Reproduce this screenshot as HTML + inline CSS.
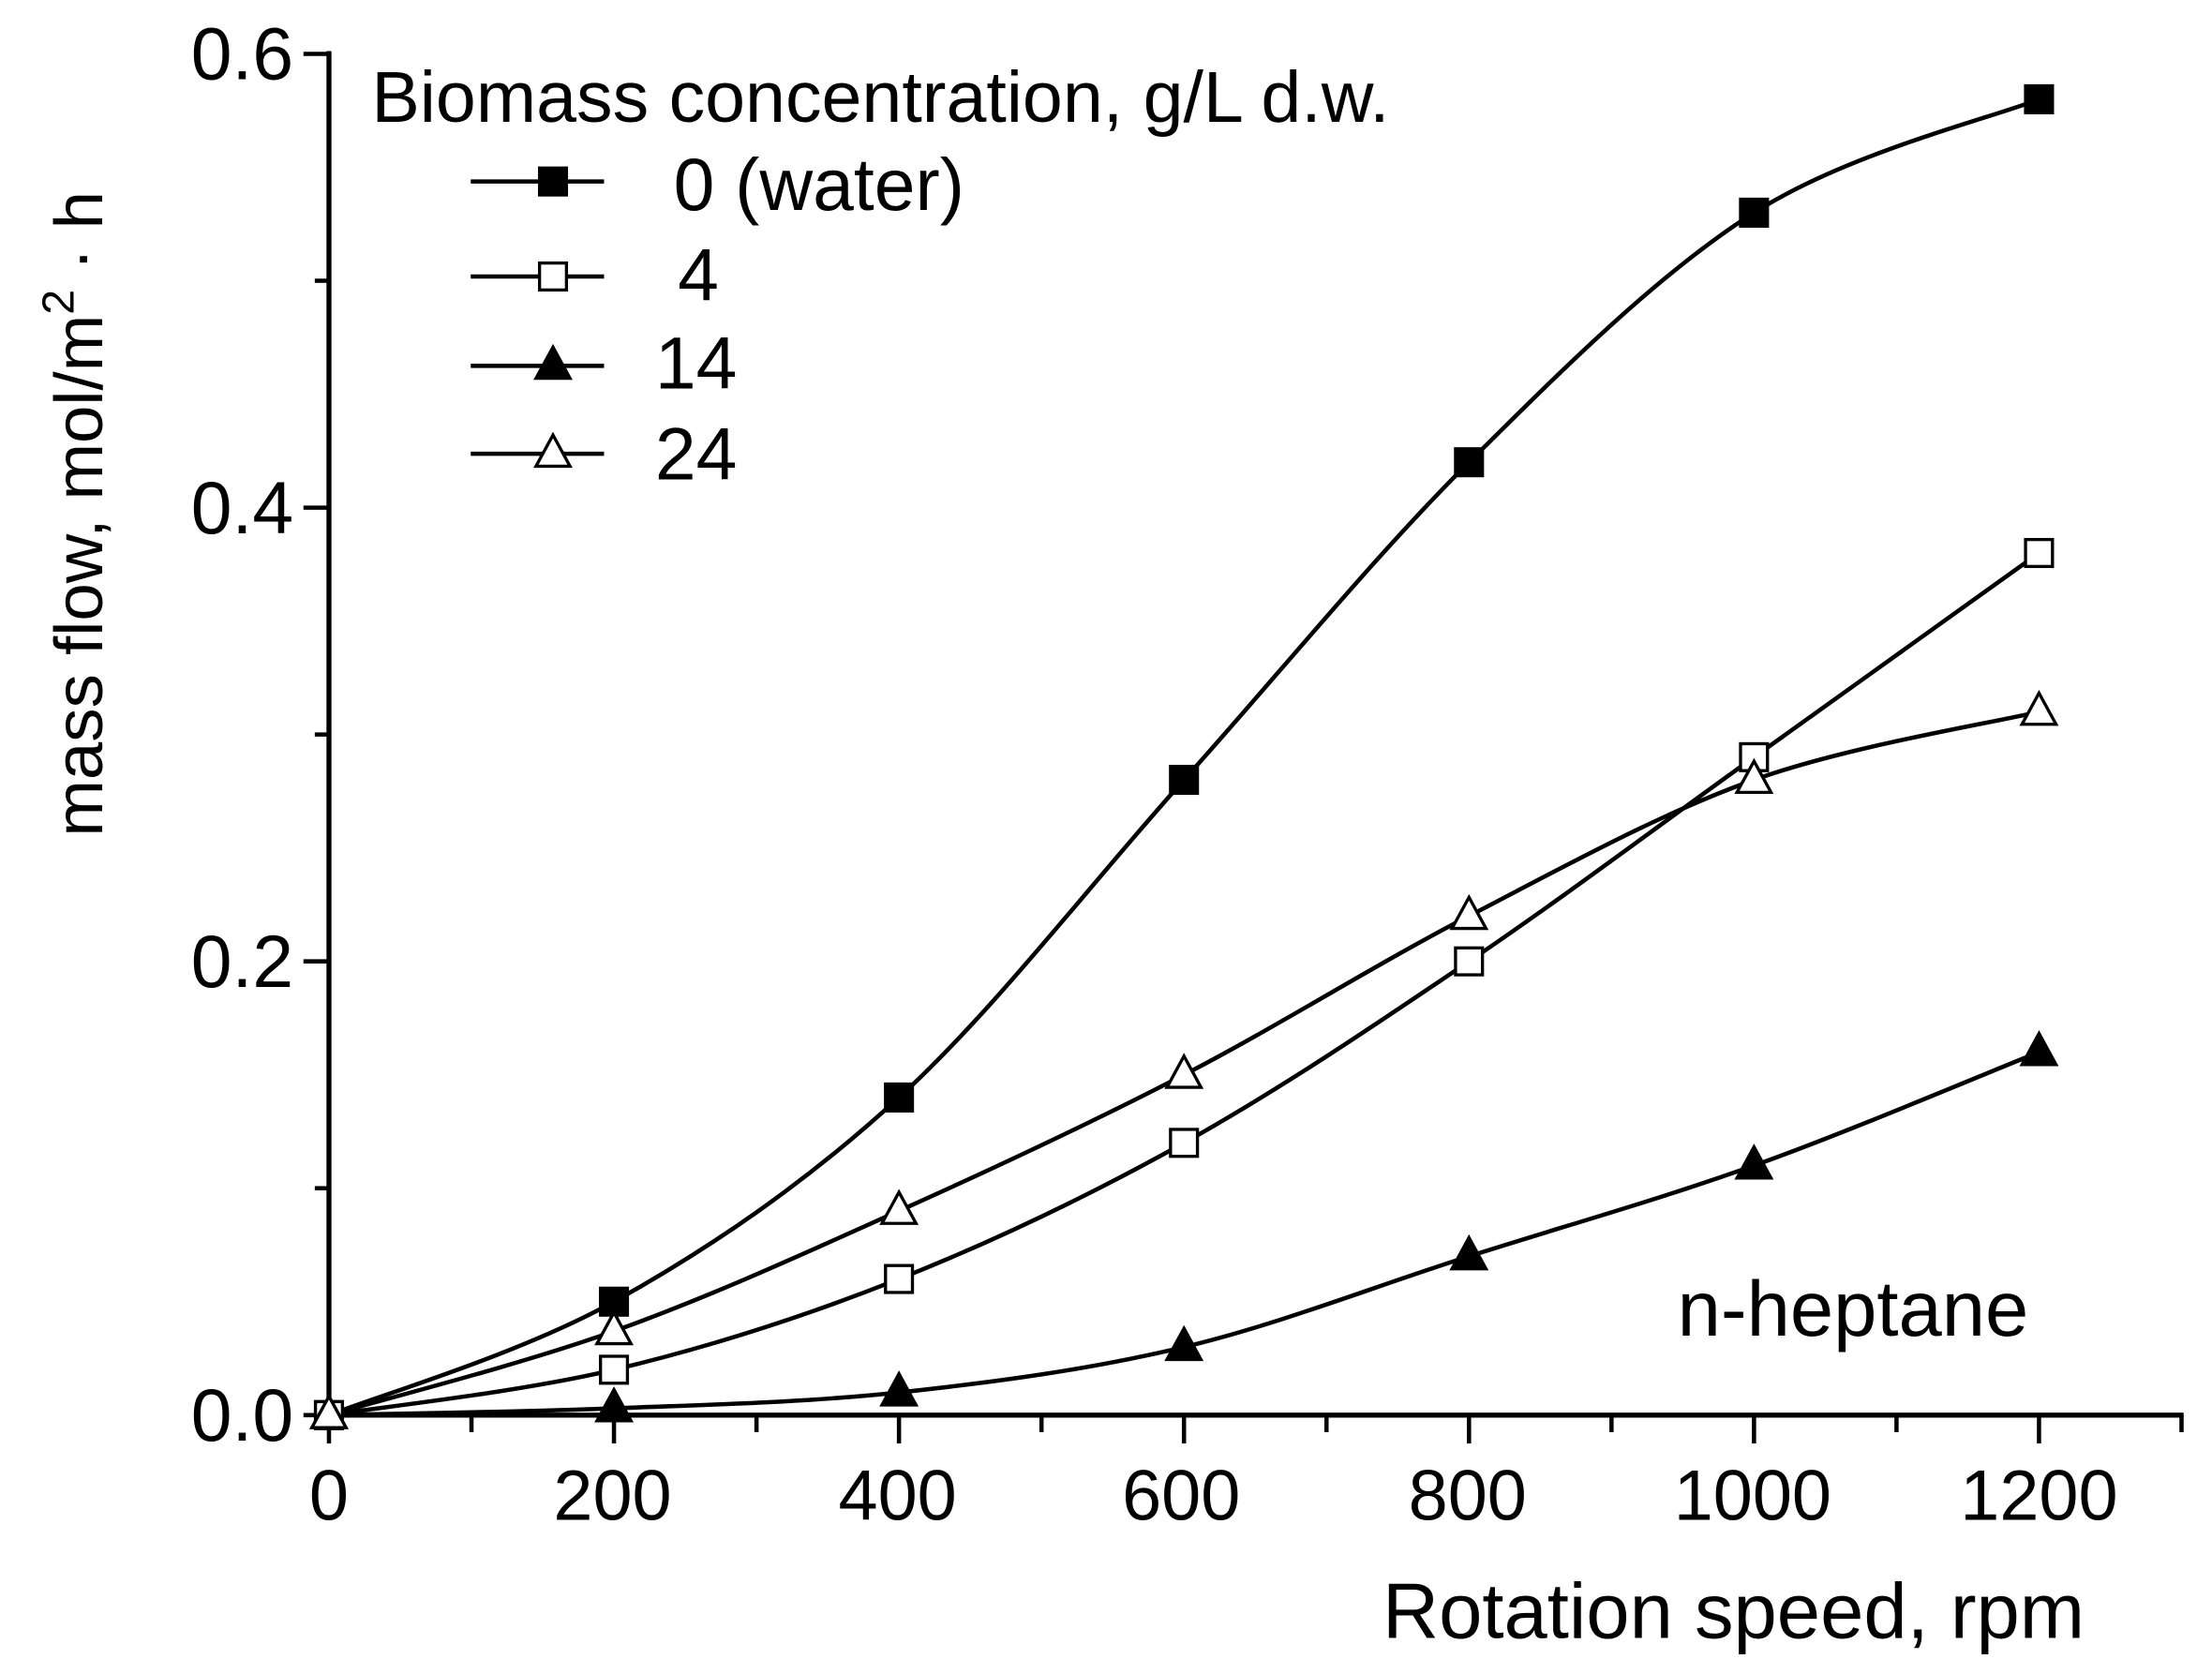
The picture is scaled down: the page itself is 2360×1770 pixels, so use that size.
<!DOCTYPE html>
<html><head><meta charset="utf-8"><style>
html,body{margin:0;padding:0;background:#fff}
svg{display:block}
text{font-family:"Liberation Sans",Arial,sans-serif;fill:#000}
</style></head><body>
<svg id="s" width="2360" height="1770" viewBox="0 0 1560 1170" xmlns="http://www.w3.org/2000/svg">
<rect width="1560" height="1170" fill="#fff"/>
<g id="axes" stroke="#000" stroke-width="3.5" fill="none">
<line x1="232" y1="36" x2="232" y2="1000"/>
<line x1="230" y1="998" x2="1540" y2="998"/>
</g>
<g id="ticks" stroke="#000" stroke-width="3"></g>
<g id="curves" stroke="#000" stroke-width="3" fill="none"></g>
<g id="marks" stroke="#000" stroke-width="2.2"></g>
<g font-size="52">
<text x="207" y="56" text-anchor="end">0.6</text>
<text x="207" y="376" text-anchor="end">0.4</text>
<text x="207" y="696" text-anchor="end">0.2</text>
<text x="207" y="1016" text-anchor="end">0.0</text>
<g font-size="50">
<text x="232" y="1072" text-anchor="middle">0</text>
<text x="432" y="1072" text-anchor="middle">200</text>
<text x="633" y="1072" text-anchor="middle">400</text>
<text x="833" y="1072" text-anchor="middle">600</text>
<text x="1035" y="1072" text-anchor="middle">800</text>
<text x="1236" y="1072" text-anchor="middle">1000</text>
<text x="1438" y="1072" text-anchor="middle">1200</text>
</g>
</g>
<text x="975" y="1155" font-size="55">Rotation speed, rpm</text>
<text transform="translate(72,590) rotate(-90)" font-size="48">mass flow, mol/m<tspan dy="-20" font-size="32">2</tspan><tspan dy="20"> · h</tspan></text>
<text x="262" y="86" font-size="51">Biomass concentration, g/L d.w.</text>
<text x="475" y="148" font-size="52">0 (water)</text>
<text x="478" y="212" font-size="52">4</text>
<text x="462" y="274" font-size="52">14</text>
<text x="462" y="338" font-size="52">24</text>
<text x="1183" y="942" font-size="55">n-heptane</text>
</svg>
<script>
var NS="http://www.w3.org/2000/svg";
function el(p,t,a){var e=document.createElementNS(NS,t);for(var k in a)e.setAttribute(k,a[k]);document.getElementById(p).appendChild(e);return e;}
function X(v){return 232+v*201/200;}
function Y(v){return 998-v*1600;}
function X(v){return 232+v*1206/1200;}
for(var v=0;v<=1300;v+=100){var big=v%200==0;el("ticks","line",{x1:X(v),y1:998,x2:X(v),y2:998+(big?20:12)});}
for(var i=0;i<=6;i++){var big=i%2==0;el("ticks","line",{x1:232-(big?18:10),y1:Y(i*0.1),x2:232,y2:Y(i*0.1)});}
var xs=[0,200,400,600,800,1000,1200];
var data=[[0,0.05,0.14,0.28,0.42,0.53,0.58],[0,0.02,0.06,0.12,0.20,0.29,0.38],[0,0.003,0.01,0.03,0.07,0.11,0.16],[0,0.037,0.09,0.15,0.22,0.28,0.31]];
function path(pts){var d="M"+pts[0][0]+","+pts[0][1];for(var i=0;i<pts.length-1;i++){var p0=pts[Math.max(0,i-1)],p1=pts[i],p2=pts[i+1],p3=pts[Math.min(pts.length-1,i+2)];
var c1=[p1[0]+(p2[0]-p0[0])/6,p1[1]+(p2[1]-p0[1])/6],c2=[p2[0]-(p3[0]-p1[0])/6,p2[1]-(p3[1]-p1[1])/6];d+=" C"+c1+" "+c2+" "+p2;}return d;}
function mark(k,x,y){
if(k<2){var s=19;el("marks","rect",{x:x-s/2,y:y-s/2,width:s,height:s,fill:k==0?"#000":"#fff"});}
else{var h=22,w=12;el("marks","polygon",{points:(x)+","+(y-h*0.6)+" "+(x+w)+","+(y+h*0.4)+" "+(x-w)+","+(y+h*0.4),fill:k==2?"#000":"#fff"});}}
data.forEach(function(ser,k){var pts=ser.map(function(v,i){return [X(xs[i]),Y(v)];});
el("curves","path",{d:path(pts)});pts.forEach(function(p){mark(k,p[0],p[1]);});});
[128,195,258,320].forEach(function(y,k){el("curves","line",{x1:332,y1:y,x2:426,y2:y});mark(k,390,y);});
</script>
</body></html>
